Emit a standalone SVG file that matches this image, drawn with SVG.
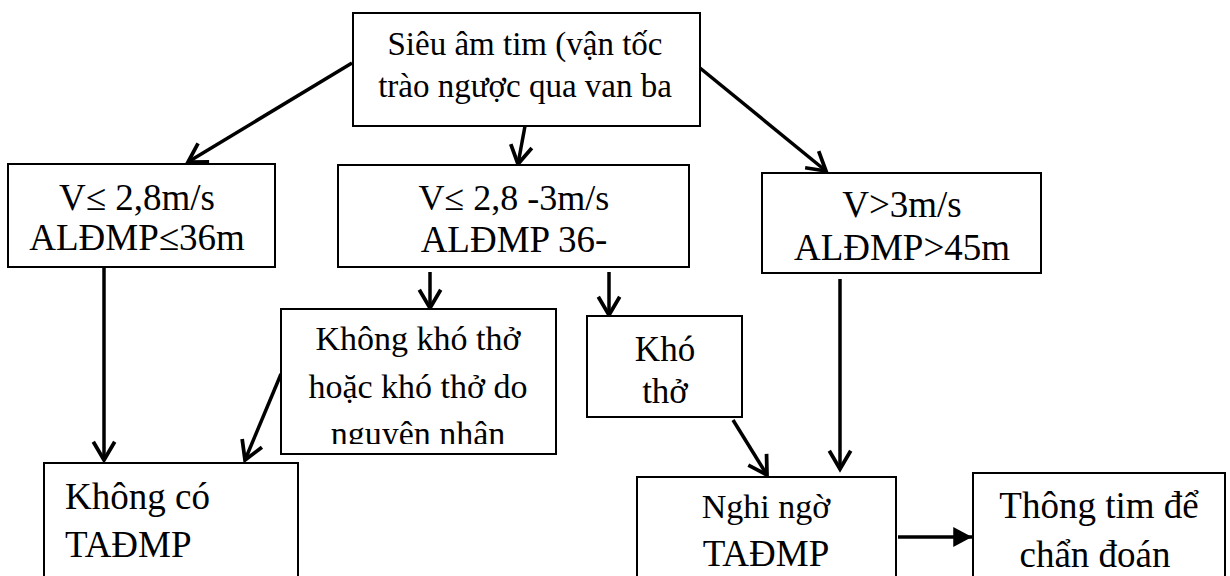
<svg xmlns="http://www.w3.org/2000/svg" width="1230" height="576" viewBox="0 0 1230 576">
<style>
.box{fill:#fff;stroke:#000;stroke-width:2}
text{font-family:"Liberation Serif","Times New Roman",serif;fill:#000;text-anchor:middle}
.s{text-anchor:start}
.c{stroke:#000;stroke-width:3.5;fill:none}
</style>
<defs>
<marker id="open" markerUnits="userSpaceOnUse" markerWidth="30" markerHeight="30" viewBox="-22 -14 26 28" refX="0" refY="0" orient="auto">
<path d="M-17,-10 L0,0 L-17,10" fill="none" stroke="#000" stroke-width="3.5"/>
</marker>
<marker id="solid" markerUnits="userSpaceOnUse" markerWidth="30" markerHeight="30" viewBox="-18 -12 20 24" refX="0" refY="0" orient="auto">
<path d="M-15,-8 L0,0 L-15,8 Z" fill="#000"/>
</marker>
<clipPath id="clipK"><rect x="281" y="309" width="275" height="135"/></clipPath>
</defs>
<g id="connectors">
<line class="c" x1="352" y1="63" x2="188" y2="162" marker-end="url(#open)"/>
<line class="c" x1="525" y1="126" x2="518" y2="164" marker-end="url(#open)"/>
<line class="c" x1="700" y1="68" x2="826" y2="171" marker-end="url(#open)"/>
<line class="c" x1="104" y1="267" x2="104" y2="460" marker-end="url(#open)"/>
<line class="c" x1="430" y1="272" x2="430" y2="308" marker-end="url(#open)"/>
<line class="c" x1="609" y1="272" x2="609" y2="315" marker-end="url(#open)"/>
<line class="c" x1="840" y1="279" x2="840" y2="469" marker-end="url(#open)"/>
<line class="c" x1="281" y1="374" x2="245" y2="460" marker-end="url(#open)"/>
<line class="c" x1="733" y1="420" x2="767" y2="475" marker-end="url(#open)"/>
<line class="c" x1="898" y1="537" x2="972" y2="537" stroke-width="4" marker-end="url(#solid)"/>
</g>
<g id="n-top">
<rect class="box" x="353" y="13" width="347" height="113"/>
<text x="525" y="55" font-size="33">Siêu âm tim (vận tốc</text>
<text x="525" y="97" font-size="33">trào ngược qua van ba</text>
</g>
<g id="n-left">
<rect class="box" x="8" y="164" width="267" height="103"/>
<text x="137" y="210" font-size="37">V≤ 2,8m/s</text>
<text x="137" y="250" font-size="37">ALĐMP≤36m</text>
</g>
<g id="n-mid">
<rect class="box" x="338" y="165" width="351" height="102"/>
<text x="514" y="210" font-size="36">V≤ 2,8 -3m/s</text>
<text x="514" y="252" font-size="37">ALĐMP 36-</text>
</g>
<g id="n-right">
<rect class="box" x="762" y="173" width="279" height="100"/>
<text x="902" y="217" font-size="37">V&gt;3m/s</text>
<text x="902" y="260" font-size="37">ALĐMP&gt;45m</text>
</g>
<g id="n-khongkhotho">
<rect class="box" x="281" y="309" width="275" height="145"/>
<g clip-path="url(#clipK)">
<text x="418" y="350" font-size="34">Không khó thở</text>
<text x="418" y="398" font-size="34">hoặc khó thở do</text>
<text x="418" y="445" font-size="34">nguyên nhân</text>
</g>
</g>
<g id="n-khotho">
<rect class="box" x="587" y="316" width="155" height="101"/>
<text x="665" y="361" font-size="35">Khó</text>
<text x="665" y="403" font-size="35">thở</text>
</g>
<g id="n-khongco">
<rect class="box" x="44" y="463" width="254" height="130"/>
<text class="s" x="65" y="509" font-size="37">Không có</text>
<text class="s" x="65" y="557" font-size="37">TAĐMP</text>
</g>
<g id="n-nghingo">
<rect class="box" x="637" y="477" width="259" height="120"/>
<text x="766" y="518" font-size="34">Nghi ngờ</text>
<text x="766" y="566" font-size="37">TAĐMP</text>
</g>
<g id="n-thongtim">
<rect class="box" x="973" y="473" width="252" height="120"/>
<text x="1099" y="518" font-size="37">Thông tim để</text>
<text x="1095" y="567" font-size="37">chẩn đoán</text>
</g>
</svg>
